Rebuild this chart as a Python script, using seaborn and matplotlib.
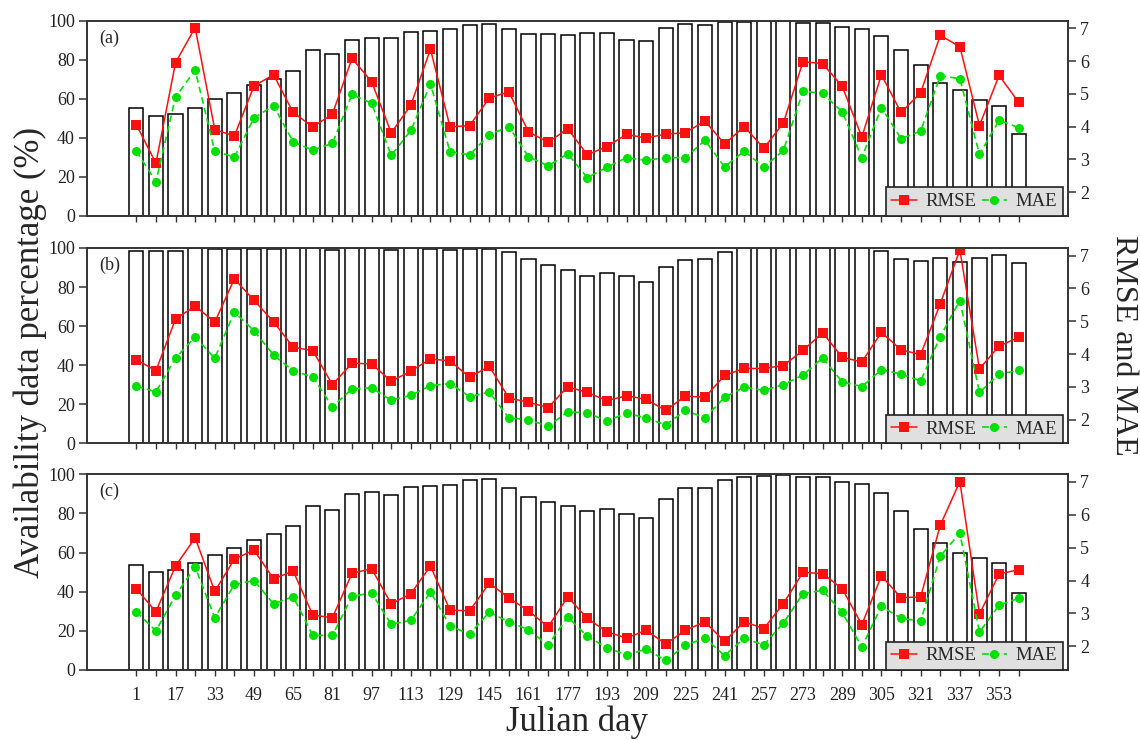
import numpy as np
import pandas as pd
import matplotlib
matplotlib.use("Agg")
import matplotlib.pyplot as plt
import seaborn as sns

# Julian days of the 8-day composites
days = list(range(1, 362, 8))
tick_labels = [str(d) if i % 2 == 0 else "" for i, d in enumerate(days)]

# (a) availability (%) and errors
avail_a = [55, 51, 52, 55, 60, 63, 67, 70, 74, 85, 83, 90, 91, 91, 94, 94.5, 96, 98, 98.5, 95.5,
           93, 93, 92.5, 93.5, 93.5, 90, 89.5, 96.5, 98.5, 98, 99.5, 99.5, 100, 100, 99, 99,
           97, 95.5, 92, 85, 77.5, 68, 64.5, 59.5, 56.5, 42]
rmse_a = [4.06, 2.88, 5.95, 7.02, 3.91, 3.71, 5.24, 5.58, 4.43, 3.99, 4.38, 6.08, 5.37, 3.81,
          4.65, 6.36, 3.99, 4.03, 4.87, 5.06, 3.84, 3.52, 3.93, 3.14, 3.39, 3.76, 3.65, 3.77,
          3.81, 4.17, 3.47, 4.0, 3.34, 4.11, 5.98, 5.92, 5.23, 3.68, 5.58, 4.43, 5.03, 6.78,
          6.44, 4.03, 5.56, 4.74]
mae_a = [3.25, 2.32, 4.9, 5.72, 3.25, 3.07, 4.26, 4.64, 3.53, 3.28, 3.49, 4.98, 4.71, 3.12,
         3.88, 5.3, 3.23, 3.14, 3.75, 4.0, 3.08, 2.8, 3.17, 2.44, 2.76, 3.05, 2.97, 3.05, 3.05,
         3.58, 2.77, 3.25, 2.76, 3.27, 5.08, 5.01, 4.45, 3.05, 4.58, 3.63, 3.86, 5.55, 5.46,
         3.15, 4.19, 3.97]

# (b)
avail_b = [98.5, 98.6, 98.6, 99.8, 99.3, 99.7, 99.7, 99.7, 99.8, 99.8, 99, 99.8, 99.8, 98.8,
           99.8, 99.7, 98.8, 99.5, 99.7, 97.7, 94.2, 91.5, 88.7, 85.7, 87.2, 85.8, 82.7, 90.3,
           93.8, 94.3, 98, 99.8, 99.8, 99.8, 99.8, 99.8, 99.8, 99.8, 98.5, 94.5, 93.2, 94.9,
           92.6, 95.1, 96.3, 92.4]
rmse_b = [3.83, 3.49, 5.07, 5.46, 4.97, 6.29, 5.64, 4.98, 4.21, 4.1, 3.07, 3.72, 3.7, 3.17,
          3.48, 3.85, 3.79, 3.29, 3.63, 2.66, 2.53, 2.37, 3.0, 2.83, 2.58, 2.73, 2.62, 2.28,
          2.72, 2.68, 3.35, 3.56, 3.56, 3.65, 4.11, 4.65, 3.9, 3.76, 4.66, 4.13, 3.98, 5.53,
          7.17, 3.55, 4.24, 4.51]
mae_b = [3.02, 2.85, 3.88, 4.52, 3.87, 5.28, 4.71, 3.97, 3.49, 3.3, 2.39, 2.94, 2.97, 2.59,
         2.74, 3.04, 3.1, 2.7, 2.84, 2.05, 2.0, 1.8, 2.24, 2.21, 1.96, 2.2, 2.05, 1.84, 2.28,
         2.06, 2.68, 2.99, 2.89, 3.07, 3.36, 3.88, 3.15, 3.01, 3.52, 3.39, 3.18, 4.53, 5.63,
         2.83, 3.39, 3.5]

# (c)
avail_c = [53.5, 50.1, 51.1, 54.7, 58.8, 62.2, 66.3, 69.3, 73.4, 84, 81.6, 90.1, 91, 89.3,
           93.5, 93.9, 94.5, 97.2, 97.6, 93.2, 88.6, 86, 83.8, 81.2, 82.4, 79.6, 77.5, 87.4,
           92.8, 93.1, 96.9, 98.5, 99, 99.5, 98.5, 98.5, 96.1, 95.2, 90.6, 81.2, 72.1, 65.1,
           59.6, 57, 54.8, 39.5]
rmse_c = [3.75, 3.05, 4.44, 5.3, 3.67, 4.65, 4.93, 4.05, 4.29, 2.95, 2.87, 4.22, 4.36, 3.29,
          3.6, 4.44, 3.1, 3.08, 3.92, 3.47, 3.08, 2.59, 3.5, 2.85, 2.44, 2.25, 2.49, 2.07, 2.49,
          2.74, 2.15, 2.75, 2.54, 3.3, 4.25, 4.21, 3.75, 2.66, 4.14, 3.48, 3.5, 5.68, 7.01,
          2.98, 4.2, 4.33]
mae_c = [3.05, 2.47, 3.55, 4.41, 2.87, 3.88, 4.0, 3.29, 3.51, 2.33, 2.33, 3.52, 3.62, 2.67,
         2.79, 3.65, 2.62, 2.37, 3.04, 2.74, 2.51, 2.03, 2.9, 2.3, 1.96, 1.74, 1.91, 1.57, 2.03,
         2.25, 1.72, 2.24, 2.04, 2.71, 3.6, 3.7, 3.03, 1.98, 3.22, 2.85, 2.77, 4.74, 5.44, 2.43,
         3.25, 3.46]

panels = [("(a)", avail_a, rmse_a, mae_a),
          ("(b)", avail_b, rmse_b, mae_b),
          ("(c)", avail_c, rmse_c, mae_c)]

sns.set_style("ticks")
plt.rcParams["font.family"] = ["Liberation Serif", "DejaVu Serif"]
plt.rcParams["axes.linewidth"] = 1.2
plt.rcParams["axes.edgecolor"] = "#333333"
plt.rcParams["xtick.color"] = "#333333"
plt.rcParams["ytick.color"] = "#333333"
plt.rcParams["xtick.labelcolor"] = "#222222"
plt.rcParams["ytick.labelcolor"] = "#222222"

fig = plt.figure(figsize=(11.4, 7.4), dpi=100)

W = 1140.0
H = 740.0
left_px, right_px = 87.3, 1067.7
rows_px = [(20.7, 215.7), (248.0, 443.3), (474.3, 670.0)]

red = "#ff1010"
green = "#00e000"

for i, ((top, bottom), (tag, avail, rmse, mae)) in enumerate(zip(rows_px, panels)):
    ax = fig.add_axes([left_px / W, 1 - bottom / H, (right_px - left_px) / W, (bottom - top) / H])
    df = pd.DataFrame({"day": days, "avail": avail, "rmse": rmse, "mae": mae})

    sns.barplot(data=df, x="day", y="avail", ax=ax, native_scale=True, width=0.72,
                color="white", saturation=1, edgecolor="black", linewidth=1.1, errorbar=None)
    ax.set_xlim(-19, 381)
    ax.set_ylim(0, 100)
    ax.set_yticks([0, 20, 40, 60, 80, 100])
    ax.set_xticks(days)
    ax.set_xlabel("")
    ax.set_ylabel("")
    ax.tick_params(axis="y", direction="out", length=6, width=1.1, labelsize=13, pad=3)
    ax.tick_params(axis="x", direction="out", length=4, width=1.0, labelsize=13, pad=8)
    if i == 2:
        ax.set_xticklabels(tick_labels)
    else:
        ax.set_xticklabels([])
    ax.text(0.012, 0.955, tag, transform=ax.transAxes, ha="left", va="top", fontsize=13)

    ax2 = ax.twinx()
    sns.lineplot(data=df, x="day", y="rmse", ax=ax2, color=red, marker="s", markersize=6.5,
                 markeredgewidth=0, linewidth=1.1, label="RMSE")
    sns.lineplot(data=df, x="day", y="mae", ax=ax2, color=green, marker="o", markersize=6.5,
                 markeredgewidth=0, linewidth=1.2, linestyle=(0, (4, 2.5)), label="MAE")
    ax2.set_ylim(1.28, 7.23)
    ax2.set_yticks([2, 3, 4, 5, 6, 7])
    ax2.set_xlim(-19, 381)
    ax2.set_ylabel("")
    ax2.set_xlabel("")
    ax2.tick_params(axis="y", direction="out", length=6, width=1.1, labelsize=13, pad=3)
    for s in ax2.spines.values():
        s.set_linewidth(1.2)
        s.set_color("#333333")

    handles, labels = ax2.get_legend_handles_labels()
    leg = ax2.legend(handles, labels, ncol=2, loc="lower right", bbox_to_anchor=(0.995, 0.0),
                     borderaxespad=0, frameon=True, fancybox=False, facecolor="#e0e0e0",
                     edgecolor="#222222", framealpha=1, fontsize=13.5, handlelength=1.35,
                     columnspacing=0.3, handletextpad=0.45, borderpad=0.3)
    leg.get_frame().set_linewidth(1.2)

fig.text(577 / W, 1 - 722 / H, "Julian day", ha="center", va="center", fontsize=25)
fig.text(30 / W, 1 - 352 / H, "Availability data percentage (%)", ha="center", va="center",
         rotation=90, fontsize=25)
fig.text(1124 / W, 1 - 345 / H, "RMSE and MAE", ha="center", va="center",
         rotation=270, fontsize=23)

fig.savefig("out.png", dpi=100)
